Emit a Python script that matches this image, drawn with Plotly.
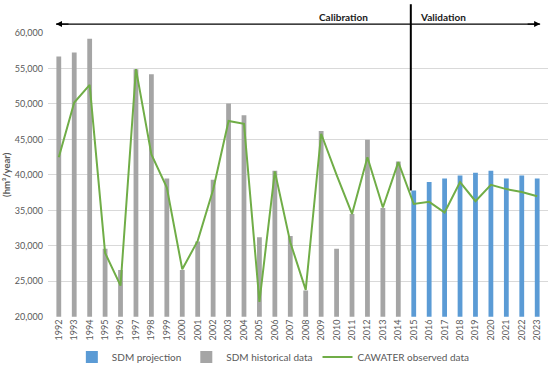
import plotly.graph_objects as go

# ---- data ----
years = list(range(1992, 2024))
hist_years = years[:23]          # 1992-2014
proj_years = years[23:]          # 2015-2023
hist_values = [56700, 57250, 59200, 29600, 26600, 54900, 54200, 39500, 26600, 30600,
               39300, 50050, 48400, 31200, 40600, 31400, 23700, 46200, 29600, 34500,
               44950, 35350, 41900]
proj_values = [37800, 39000, 39500, 39900, 40300, 40600, 39500, 39900, 39500]
observed_values = [42500, 50200, 52700, 29000, 24400, 54900, 42900, 38200, 26700, 30700,
                   37900, 47600, 47200, 22100, 40500, 30500, 23800, 45800, 40000, 34500,
                   42500, 35400, 41800, 35900, 36200, 34700, 39000, 36300, 38600, 38000,
                   37600, 37000]
y_ticks = [20000, 25000, 30000, 35000, 40000, 45000, 50000, 55000, 60000]
split_year = 2014.81

# ---- geometry ----
W, H = 550, 367
ML, MR, MT, MB = 48, 2, 33, 48
X0, X1 = 1991.3, 2023.7
Y0, Y1 = 20000, 60000
PH = H - MT - MB


def xp(x):
    return (x - X0) / (X1 - X0)


def yp_px(py):
    # pixel row (from top) -> paper y
    return (H - MB - py) / PH


FONT = "Lato"
GRAY_TXT = "#595959"

fig = go.Figure()
fig.add_bar(x=proj_years, y=proj_values, name="SDM projection",
            marker=dict(color="#5B9BD5", line=dict(width=0)), width=0.31)
fig.add_bar(x=hist_years, y=hist_values, name="SDM historical data",
            marker=dict(color="#A5A5A5", line=dict(width=0)), width=0.31)
fig.add_scatter(x=years, y=observed_values, mode="lines", name="CAWATER observed data",
                line=dict(color="#70AD47", width=2))

shapes = [
    # vertical split line
    dict(type="line", xref="paper", yref="paper",
         x0=xp(split_year), x1=xp(split_year),
         y0=(proj_values[0] - Y0) / (Y1 - Y0), y1=yp_px(4),
         line=dict(color="black", width=2), layer="above"),
    # horizontal arrow line
    dict(type="line", xref="paper", yref="paper",
         x0=xp(1991.82), x1=xp(2023.19), y0=yp_px(24), y1=yp_px(24),
         line=dict(color="black", width=1.2), layer="above"),
]

annotations = [
    dict(xref="paper", yref="paper", x=xp(1991.82), y=yp_px(24), ax=14, ay=0,
         text="", showarrow=True, arrowhead=2, arrowsize=1, arrowwidth=1.2, arrowcolor="black"),
    dict(xref="paper", yref="paper", x=xp(2023.19), y=yp_px(24), ax=-14, ay=0,
         text="", showarrow=True, arrowhead=2, arrowsize=1, arrowwidth=1.2, arrowcolor="black"),
    dict(xref="paper", yref="paper", x=xp(2010.48), y=yp_px(16.7), text="<b>Calibration</b>",
         showarrow=False, font=dict(family=FONT, size=10, color="#1a1a1a"),
         xanchor="center", yanchor="middle"),
    dict(xref="paper", yref="paper", x=xp(2016.87), y=yp_px(16.7), text="<b>Validation</b>",
         showarrow=False, font=dict(family=FONT, size=10, color="#1a1a1a"),
         xanchor="center", yanchor="middle"),
    dict(xref="paper", yref="paper", x=(7 - ML) / (W - ML - MR), y=0.5,
         text="<b>(hm³/year)</b>", textangle=-90, showarrow=False,
         font=dict(family=FONT, size=9.5, color=GRAY_TXT),
         xanchor="center", yanchor="middle"),
]

fig.update_layout(
    width=W, height=H,
    margin=dict(l=ML, r=MR, t=MT, b=MB),
    paper_bgcolor="white", plot_bgcolor="white",
    barmode="overlay",
    font=dict(family=FONT, color=GRAY_TXT),
    shapes=shapes, annotations=annotations,
    showlegend=True,
    legend=dict(orientation="h", xref="container", yref="container",
                x=0.497, xanchor="center", y=1 - 357 / H, yanchor="middle",
                font=dict(family=FONT, size=10, color=GRAY_TXT),
                itemwidth=30, tracegroupgap=0, bgcolor="rgba(0,0,0,0)"),
    xaxis=dict(range=[X0, X1], tickmode="array", tickvals=years,
               ticktext=[str(y) for y in years], tickangle=-90,
               tickfont=dict(family=FONT, size=9, color=GRAY_TXT),
               showgrid=False, zeroline=False, showline=False, ticks=""),
    yaxis=dict(range=[Y0, Y1], tickmode="array", tickvals=y_ticks, tickformat=",",
               tickfont=dict(family=FONT, size=9, color=GRAY_TXT),
               showgrid=True, gridcolor="#D9D9D9", gridwidth=1,
               zeroline=False, showline=False, ticks="", ticklabelstandoff=4),
)

fig.write_html("out.html", config={"displayModeBar": False},
               post_script="document.body.style.margin='0';document.body.style.padding='0';")
